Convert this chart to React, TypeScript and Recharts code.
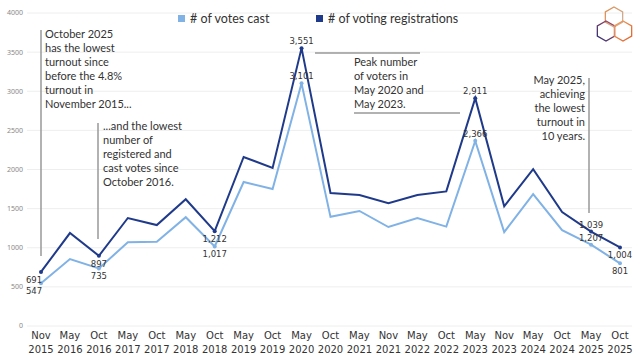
import { LineChart, Line, XAxis, YAxis, CartesianGrid, LabelList } from 'recharts';

const periods = [
  'Nov 2015', 'May 2016', 'Oct 2016', 'May 2017', 'Oct 2017', 'May 2018', 'Oct 2018',
  'May 2019', 'Oct 2019', 'May 2020', 'Oct 2020', 'May 2021', 'Nov 2021', 'May 2022',
  'Oct 2022', 'May 2023', 'Nov 2023', 'May 2024', 'Oct 2024', 'May 2025', 'Oct 2025',
];

const registrations = [
  691, 1188, 897, 1380, 1290, 1620, 1212, 2160, 2020, 3551, 1700,
  1675, 1570, 1675, 1720, 2911, 1530, 2005, 1455, 1207, 1004,
];

const votesCast = [
  547, 856, 735, 1070, 1078, 1390, 1017, 1840, 1750, 3101, 1395,
  1470, 1265, 1380, 1270, 2366, 1200, 1685, 1225, 1039, 801,
];

// value labels as printed on the original (May 2025 pair is printed swapped)
const registrationLabels = [
  '691', '', '897', '', '', '', '1,212', '', '', '3,551', '',
  '', '', '', '', '2,911', '', '', '', '1,039', '1,004',
];
const votesLabels = [
  '547', '', '735', '', '', '', '1,017', '', '', '3,101', '',
  '', '', '', '', '2,366', '', '', '', '1,207', '801',
];

const yTicks = [0, 500, 1000, 1500, 2000, 2500, 3000, 3500, 4000];

const DARK = '#1f3a8a';
const LIGHT = '#80b2e6';
const ANNOT_FONT = 'Lato, sans-serif';

const data = periods.map((period, i) => ({
  period,
  registrations: registrations[i],
  votes: votesCast[i],
}));

const labelAbove = new Set([9, 15, 19]);

function makeLabel(texts: string[]) {
  return (props: any) => {
    const { x, y, index } = props;
    const text = texts[index];
    if (!text) return null;
    const above = labelAbove.has(index);
    const shift = index === 0 ? -7 : 0;
    return (
      <text
        x={x + shift}
        y={above ? y - 4 : y + 11}
        textAnchor="middle"
        fontFamily="DejaVu Sans, Verdana, sans-serif"
        fontSize={8.5}
        fill="#333"
      >
        {text}
      </text>
    );
  };
}

function makeDot(texts: string[], colour: string) {
  return (props: any) => {
    const { cx, cy, index } = props;
    if (!texts[index]) return <g key={`d-${index}`} />;
    return <circle key={`d-${index}`} cx={cx} cy={cy} r={2} fill={colour} stroke="none" />;
  };
}

function PeriodTick(props: any) {
  const { x, payload } = props;
  const [month, year] = String(payload.value).split(' ');
  return (
    <text
      x={x}
      textAnchor="middle"
      fontFamily="DejaVu Sans, Verdana, sans-serif"
      fontSize={10}
      fill="#333"
    >
      <tspan x={x} y={339}>{month}</tspan>
      <tspan x={x} y={353}>{year}</tspan>
    </text>
  );
}

function AnnotationText({ x, y, lines, anchor = 'start' }: { x: number; y: number; lines: string[]; anchor?: 'start' | 'end' }) {
  return (
    <text x={x} y={y} fontFamily={ANNOT_FONT} fontSize={11} fill="#333" textAnchor={anchor}>
      {lines.map((l, i) => (
        <tspan key={i} x={x} y={y + i * 14}>{l}</tspan>
      ))}
    </text>
  );
}

function Hex({ cx, cy, r, stroke }: { cx: number; cy: number; r: number; stroke: string }) {
  const pts = [0, 1, 2, 3, 4, 5]
    .map((k) => {
      const a = (Math.PI / 3) * k - Math.PI / 2;
      return `${cx + r * Math.cos(a)},${cy + r * Math.sin(a)}`;
    })
    .join(' ');
  return <polygon points={pts} fill="none" stroke={stroke} strokeWidth={1.3} />;
}

function Overlay() {
  return (
    <svg
      width={640}
      height={360}
      style={{ position: 'absolute', left: 0, top: 0, pointerEvents: 'none' }}
    >
      <defs>
        <linearGradient id="hexTop" x1="0" y1="0" x2="1" y2="1">
          <stop offset="0" stopColor="#e08a4a" />
          <stop offset="1" stopColor="#c9b8a8" />
        </linearGradient>
        <linearGradient id="hexLeft" x1="0" y1="1" x2="1" y2="0">
          <stop offset="0" stopColor="#2a2f78" />
          <stop offset="1" stopColor="#b04a5a" />
        </linearGradient>
        <linearGradient id="hexRight" x1="0" y1="0" x2="1" y2="1">
          <stop offset="0" stopColor="#f0a060" />
          <stop offset="1" stopColor="#e0602a" />
        </linearGradient>
      </defs>

      {/* legend */}
      <rect x={178} y={15} width={7} height={7} fill={LIGHT} />
      <text x={190} y={23} fontFamily={ANNOT_FONT} fontSize={12.5} fill="#333">
        # of votes cast
      </text>
      <rect x={316} y={15} width={7} height={7} fill={DARK} />
      <text x={328} y={23} fontFamily={ANNOT_FONT} fontSize={12.5} fill="#333">
        # of voting registrations
      </text>

      {/* logo */}
      <Hex cx={614} cy={17} r={10} stroke="url(#hexTop)" />
      <Hex cx={606} cy={31} r={10} stroke="url(#hexLeft)" />
      <Hex cx={623} cy={31} r={10} stroke="url(#hexRight)" />

      {/* annotation: Oct 2025 low */}
      <line x1={41} y1={30} x2={41} y2={256} stroke="#999" strokeWidth={1.5} />
      <AnnotationText
        x={45}
        y={38}
        lines={['October 2025', 'has the lowest', 'turnout since', 'before the 4.8%', 'turnout in', 'November 2015...']}
      />

      {/* annotation: Oct 2016 */}
      <line x1={98} y1={123} x2={98} y2={239} stroke="#999" strokeWidth={1.5} />
      <AnnotationText
        x={103}
        y={130}
        lines={['...and the lowest', 'number of', 'registered and', 'cast votes since', 'October 2016.']}
      />

      {/* annotation: peaks */}
      <line x1={315} y1={53} x2={420} y2={53} stroke="#999" strokeWidth={1.5} />
      <line x1={354} y1={113} x2={460} y2={113} stroke="#999" strokeWidth={1.5} />
      <AnnotationText
        x={354}
        y={66}
        lines={['Peak number', 'of voters in', 'May 2020 and', 'May 2023.']}
      />

      {/* annotation: May 2025 */}
      <line x1={589} y1={78} x2={589} y2={213} stroke="#999" strokeWidth={1.5} />
      <AnnotationText
        x={585}
        y={84}
        anchor="end"
        lines={['May 2025,', 'achieving', 'the lowest', 'turnout in', '10 years.']}
      />
    </svg>
  );
}

export default function App() {
  return (
    <div style={{ position: 'absolute', left: 0, top: 0, width: 640, height: 360, background: '#fff' }}>
      <LineChart
        width={640}
        height={360}
        data={data}
        margin={{ top: 13, right: 8, bottom: 0, left: 0 }}
      >
        <CartesianGrid vertical={false} stroke="#eeeeee" />
        <XAxis
          dataKey="period"
          interval={0}
          axisLine={false}
          tickLine={false}
          height={34}
          padding={{ left: 14, right: 12 }}
          tick={<PeriodTick />}
        />
        <YAxis
          domain={[0, 4000]}
          ticks={yTicks}
          width={27}
          axisLine={false}
          tickLine={false}
          tickSize={4}
          tickMargin={0}
          tick={{ fontSize: 7, fill: '#888', fontFamily: 'Noto Sans, sans-serif' }}
        />
        <Line
          type="linear"
          dataKey="votes"
          stroke={LIGHT}
          strokeWidth={2}
          dot={makeDot(votesLabels, LIGHT)}
          activeDot={false}
          isAnimationActive={false}
        >
          <LabelList dataKey="votes" content={makeLabel(votesLabels)} />
        </Line>
        <Line
          type="linear"
          dataKey="registrations"
          stroke={DARK}
          strokeWidth={2}
          dot={makeDot(registrationLabels, DARK)}
          activeDot={false}
          isAnimationActive={false}
        >
          <LabelList dataKey="registrations" content={makeLabel(registrationLabels)} />
        </Line>
      </LineChart>
      <Overlay />
    </div>
  );
}
